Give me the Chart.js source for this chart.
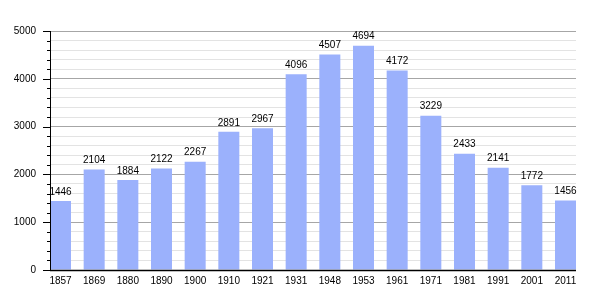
<!DOCTYPE html>
<html>
<head>
<meta charset="utf-8">
<script src="https://cdn.jsdelivr.net/npm/chart.js@4/dist/chart.umd.min.js"></script>
<style>
  html, body { margin: 0; padding: 0; background: #fff; }
  #wrap { width: 605px; height: 300px; }
</style>
</head>
<body>
<div id="wrap"><canvas id="c"></canvas></div>
<script>
const years = ['1857', '1869', '1880', '1890', '1900', '1910', '1921', '1931', '1948', '1953', '1961', '1971', '1981', '1991', '2001', '2011'];
const population = [1446, 2104, 1884, 2122, 2267, 2891, 2967, 4096, 4507, 4694, 4172, 3229, 2433, 2141, 1772, 1456];
const yMax = 5000;
const yMajor = 1000;
const yMinor = 200;

const FONT = 'Liberation Sans, Arial, sans-serif';

// value labels above each bar
const barLabels = {
    id: 'barLabels',
    afterDatasetsDraw(chart) {
        const ctx = chart.ctx;
        ctx.save();
        ctx.font = '10px ' + FONT;
        ctx.fillStyle = '#000';
        ctx.textAlign = 'center';
        ctx.textBaseline = 'bottom';
        chart.getDatasetMeta(0).data.forEach((bar, i) => {
            ctx.fillText(population[i], bar.x, bar.y - 4);
        });
        ctx.restore();
    }
};

// y axis tick marks: long at majors, short at minors, plus axis lines
const axisTicks = {
    id: 'axisTicks',
    afterDraw(chart) {
        const ctx = chart.ctx;
        const y = chart.scales.y;
        const area = chart.chartArea;
        ctx.save();
        ctx.strokeStyle = '#000';
        ctx.lineWidth = 1;
        y.ticks.forEach(t => {
            const py = Math.round(y.getPixelForValue(t.value)) + 0.5;
            const len = t.value % yMajor === 0 ? 7 : 3;
            ctx.beginPath();
            ctx.moveTo(area.left - len, py);
            ctx.lineTo(area.left, py);
            ctx.stroke();
        });
        ctx.beginPath();
        ctx.moveTo(Math.round(area.left) + 0.5, area.top);
        ctx.lineTo(Math.round(area.left) + 0.5, area.bottom);
        ctx.stroke();
        ctx.lineWidth = 1.5;
        ctx.beginPath();
        ctx.moveTo(area.left, Math.round(area.bottom) + 0.5);
        ctx.lineTo(area.right, Math.round(area.bottom) + 0.5);
        ctx.stroke();
        ctx.restore();
    }
};

const yTicks = [];
for (let v = 0; v <= yMax; v += yMinor) yTicks.push({ value: v });

new Chart(document.getElementById('c'), {
    type: 'bar',
    data: {
        datasets: [{
            data: population.map((v, i) => ({ x: i, y: v })),
            backgroundColor: '#9bb1fc',
            barPercentage: 0.624,
            categoryPercentage: 1
        }]
    },
    options: {
        responsive: true,
        maintainAspectRatio: false,
        animation: false,
        layout: { padding: { top: 31, right: 29, left: 0, bottom: 0 } },
        plugins: {
            legend: { display: false },
            tooltip: { enabled: false }
        },
        scales: {
            x: {
                type: 'linear',
                offset: false,
                min: -0.312,
                max: years.length - 1 + 0.312,
                afterBuildTicks: s => { s.ticks = years.map((y, i) => ({ value: i })); },
                afterFit: s => { s.height = 30; },
                grid: { display: false, offset: false },
                border: { display: false },
                ticks: {
                    autoSkip: false,
                    maxRotation: 0,
                    padding: -3,
                    color: '#000',
                    font: { family: FONT, size: 10 },
                    callback: v => years[v]
                }
            },
            y: {
                min: 0,
                max: yMax,
                afterBuildTicks: s => { s.ticks = yTicks.map(t => ({ value: t.value })); },
                afterFit: s => { s.width = 50; },
                border: { display: false },
                grid: {
                    drawTicks: false,
                    color: c => c.tick.value % yMajor === 0 ? '#a6a6a6' : '#e3e3e3'
                },
                ticks: {
                    autoSkip: false,
                    padding: 14,
                    color: '#000',
                    font: { family: FONT, size: 10 },
                    callback: v => v % yMajor === 0 ? v : ''
                }
            }
        }
    },
    plugins: [barLabels, axisTicks]
});
</script>
</body>
</html>
